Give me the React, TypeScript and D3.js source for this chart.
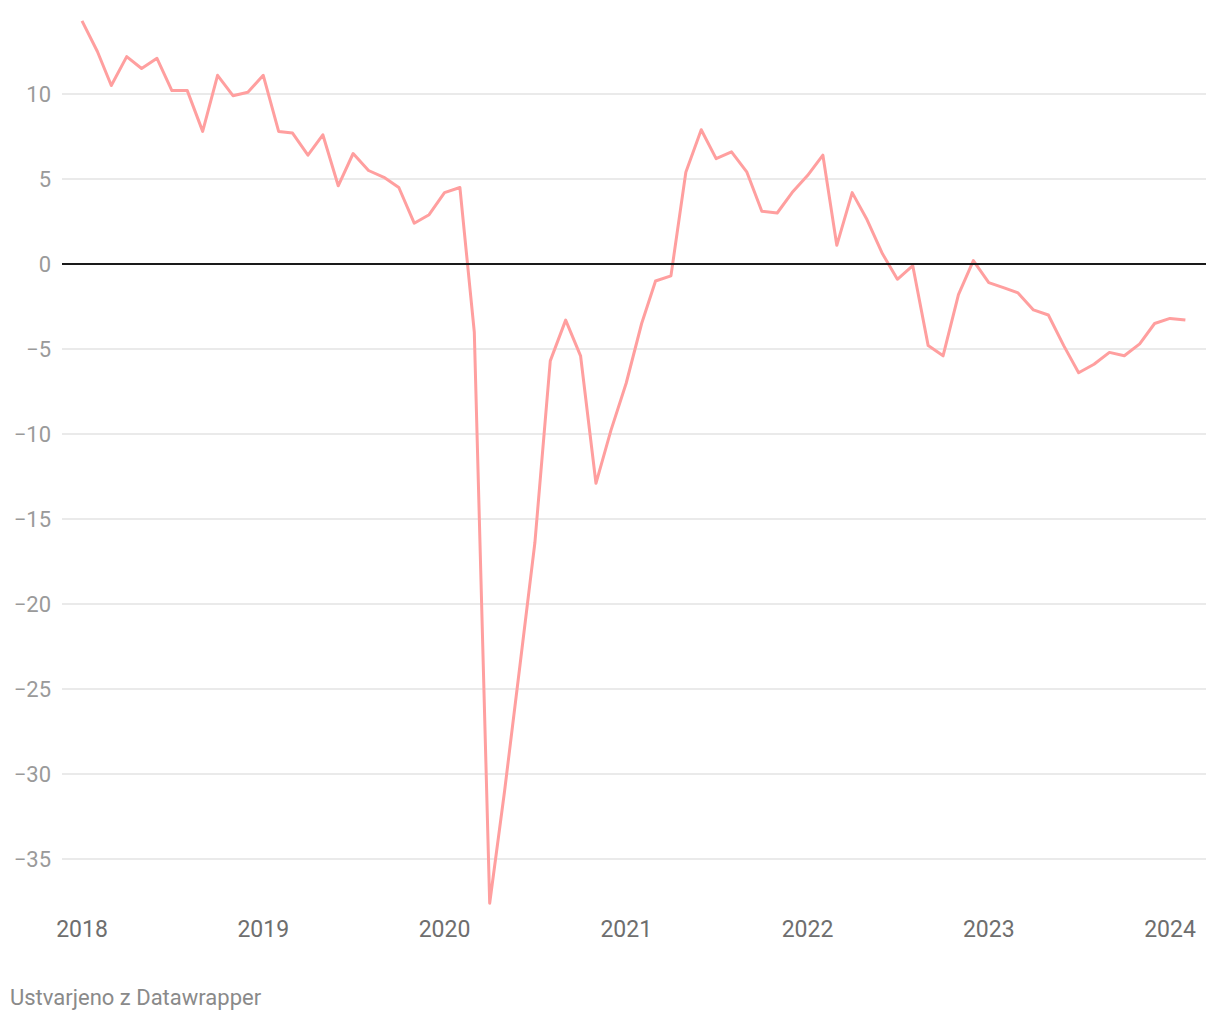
import React from "react";
import * as d3 from "d3";

const startYear = 2018;
const startMonth = 0;
const values: number[] = [
  14.3, 12.5, 10.5, 12.2, 11.5, 12.1, 10.2, 10.2, 7.8, 11.1, 9.9, 10.1,
  11.1, 7.8, 7.7, 6.4, 7.6, 4.6, 6.5, 5.5, 5.1, 4.5, 2.4, 2.9,
  4.2, 4.5, -4.0, -37.6, -31.0, -23.6, -16.4, -5.7, -3.3, -5.4, -12.9, -9.8,
  -7.0, -3.5, -1.0, -0.7, 5.4, 7.9, 6.2, 6.6, 5.4, 3.1, 3.0, 4.2,
  5.2, 6.4, 1.1, 4.2, 2.6, 0.6, -0.9, -0.1, -4.8, -5.4, -1.8, 0.2,
  -1.1, -1.4, -1.7, -2.7, -3.0, -4.8, -6.4, -5.9, -5.2, -5.4, -4.7, -3.5,
  -3.2, -3.3,
];
const yTicks: number[] = [10, 5, 0, -5, -10, -15, -20, -25, -30, -35];
const xTickYears: number[] = [2018, 2019, 2020, 2021, 2022, 2023, 2024];
const creditText = "Ustvarjeno z Datawrapper";

const W = 1220;
const H = 1020;

export default function App() {
  const data = values.map((v, i) => ({ date: new Date(startYear, startMonth + i, 1), v }));
  const x = d3
    .scaleTime()
    .domain([new Date(2018, 0, 1), new Date(2024, 0, 1)])
    .range([82, 1170]);
  const y = d3.scaleLinear().domain([0, 10]).range([264, 94]);
  const line = d3
    .line<{ date: Date; v: number }>()
    .x((d) => x(d.date))
    .y((d) => y(d.v));
  const fmt = (t: number) => (t < 0 ? "\u2212" + Math.abs(t) : String(t));
  return (
    <svg
      width={W}
      height={H}
      style={{ position: "absolute", left: 0, top: 0, background: "#fff" }}
      fontFamily="Roboto, sans-serif"
    >
      {yTicks.map((t) => (
        <g key={t}>
          {t !== 0 && (
            <line x1={62} x2={1206} y1={y(t)} y2={y(t)} stroke="#e3e3e3" strokeWidth={1.5} />
          )}
          <text x={51} y={y(t)} dy="0.36em" textAnchor="end" fontSize={22} fill="#9a9a9a">
            {fmt(t)}
          </text>
        </g>
      ))}
      <path d={line(data) || ""} fill="none" stroke="#ff9f9f" strokeWidth={3} strokeLinejoin="round" />
      <line x1={62} x2={1206} y1={y(0)} y2={y(0)} stroke="#1a1a1a" strokeWidth={1.8} />
      {xTickYears.map((yr) => (
        <text
          key={yr}
          x={x(new Date(yr, 0, 1))}
          y={937}
          textAnchor="middle"
          fontSize={23}
          fill="#6e6e6e"
        >
          {yr}
        </text>
      ))}
      <text x={10} y={1005} fontSize={22} fill="#8a8a8a">
        {creditText}
      </text>
    </svg>
  );
}
